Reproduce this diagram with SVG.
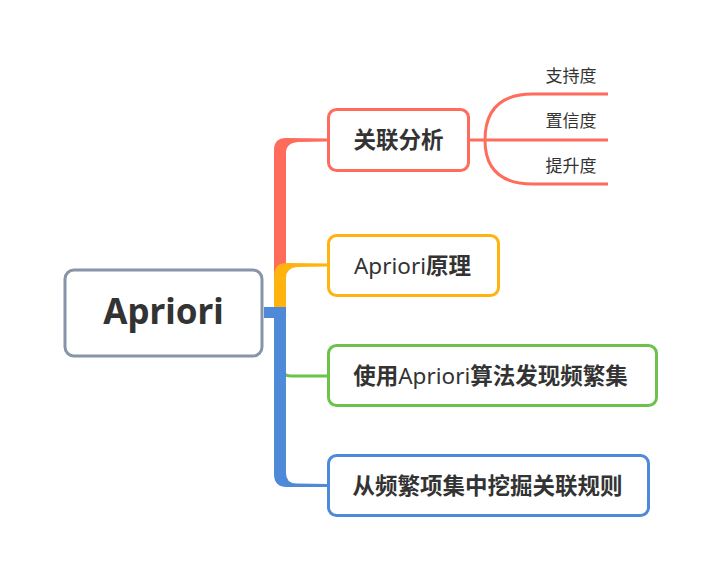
<svg xmlns="http://www.w3.org/2000/svg" width="718" height="578" viewBox="0 0 718 578">
<style>
.node{fill:#fff;stroke-width:3}
.t{font-family:"Noto Sans","Noto Sans CJK SC",sans-serif;fill:#333;text-anchor:middle}
.main{font-size:22.5px;font-weight:bold}
.lat{font-weight:normal}
.sub{font-size:17px}
.thin{fill:none;stroke-width:3;stroke-linecap:butt}
</style>
<rect width="718" height="578" fill="#fff"/>
<g id="connectors">
<path d="M274,310 V150 Q274,138 286,138 L328,138.5 V141.5 L298,142 Q286,143 286,153 V310 Z" fill="#FF6C5C"/>
<path d="M274,310 V276 Q274,263 287,263 L328,263.5 V266.5 L297,267 Q286,268 286,278 V310 Z" fill="#FFB30F"/>
<path class="thin" d="M281,350 V366 Q281,376 291,376 H328" stroke="#6CC24A"/>
<path d="M264,307 H286 V473 Q286,483 296,483.5 L328,484 V487 L287,487 Q274,487 274,474 V318 H264 Z" fill="#4E8AD8"/>
<path class="thin" d="M470,140 H608 M608,94 H533 Q485,94 485,140 Q485,184 533,184 H608" stroke="#FF6C5C"/>
</g>
<g id="root">
<rect class="node" x="65" y="270" width="197" height="86" rx="9" stroke="#8894A8" stroke-width="3.5"/>
<text class="t" x="163.5" y="324" font-size="35" font-weight="bold">Apriori</text>
</g>
<g id="n1">
<rect class="node" x="328.5" y="109.5" width="140" height="61" rx="8" stroke="#FF6C5C"/>
<text class="t main" x="398.5" y="148">关联分析</text>
</g>
<g id="n1a"><text class="t sub" x="571" y="82">支持度</text></g>
<g id="n1b"><text class="t sub" x="571" y="127">置信度</text></g>
<g id="n1c"><text class="t sub" x="571" y="172">提升度</text></g>
<g id="n2">
<rect class="node" x="328.5" y="235.5" width="170" height="60" rx="8" stroke="#FFB30F"/>
<text class="t main" x="412.5" y="273.5"><tspan class="lat">Apriori</tspan>原理</text>
</g>
<g id="n3">
<rect class="node" x="328.5" y="345.5" width="328" height="60" rx="8" stroke="#6CC24A"/>
<text class="t main" x="490.5" y="383.5">使用<tspan class="lat">Apriori</tspan>算法发现频繁集</text>
</g>
<g id="n4">
<rect class="node" x="328.5" y="455.5" width="320" height="60" rx="8" stroke="#4E8AD8"/>
<text class="t main" x="487.5" y="493.5">从频繁项集中挖掘关联规则</text>
</g>
</svg>
